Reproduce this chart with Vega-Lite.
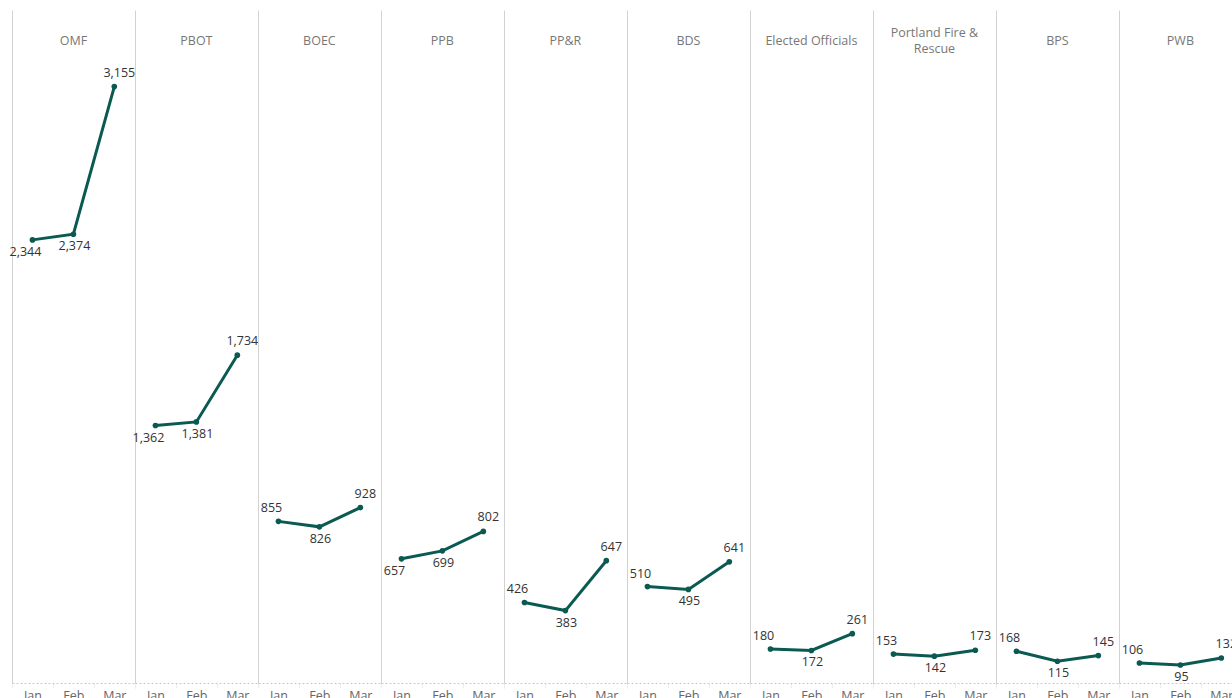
{
  "$schema": "https://vega.github.io/schema/vega-lite/v6.json",
  "background": "white",
  "padding": {"left": 9, "top": 10, "right": 0, "bottom": 0},
  "config": {
    "font": "Open Sans",
    "view": {"stroke": null},
    "facet": {"spacing": 0}
  },
  "data": {
    "values": [
      {"dept": "OMF", "month": "Jan", "value": 2344},
      {"dept": "OMF", "month": "Feb", "value": 2374},
      {"dept": "OMF", "month": "Mar", "value": 3155},
      {"dept": "PBOT", "month": "Jan", "value": 1362},
      {"dept": "PBOT", "month": "Feb", "value": 1381},
      {"dept": "PBOT", "month": "Mar", "value": 1734},
      {"dept": "BOEC", "month": "Jan", "value": 855},
      {"dept": "BOEC", "month": "Feb", "value": 826},
      {"dept": "BOEC", "month": "Mar", "value": 928},
      {"dept": "PPB", "month": "Jan", "value": 657},
      {"dept": "PPB", "month": "Feb", "value": 699},
      {"dept": "PPB", "month": "Mar", "value": 802},
      {"dept": "PP&R", "month": "Jan", "value": 426},
      {"dept": "PP&R", "month": "Feb", "value": 383},
      {"dept": "PP&R", "month": "Mar", "value": 647},
      {"dept": "BDS", "month": "Jan", "value": 510},
      {"dept": "BDS", "month": "Feb", "value": 495},
      {"dept": "BDS", "month": "Mar", "value": 641},
      {"dept": "Elected Officials", "month": "Jan", "value": 180},
      {"dept": "Elected Officials", "month": "Feb", "value": 172},
      {"dept": "Elected Officials", "month": "Mar", "value": 261},
      {"dept": "Portland Fire & Rescue", "month": "Jan", "value": 153},
      {"dept": "Portland Fire & Rescue", "month": "Feb", "value": 142},
      {"dept": "Portland Fire & Rescue", "month": "Mar", "value": 173},
      {"dept": "BPS", "month": "Jan", "value": 168},
      {"dept": "BPS", "month": "Feb", "value": 115},
      {"dept": "BPS", "month": "Mar", "value": 145},
      {"dept": "PWB", "month": "Jan", "value": 106},
      {"dept": "PWB", "month": "Feb", "value": 95},
      {"dept": "PWB", "month": "Mar", "value": 132}
    ]
  },
  "transform": [
    {"calculate": "indexof(['Jan', 'Feb', 'Mar'], datum.month)", "as": "month_index"},
    {
      "window": [{"op": "lead", "field": "value", "as": "next_value"}],
      "groupby": ["dept"],
      "sort": [{"field": "month_index", "order": "ascending"}]
    }
  ],
  "facet": {
    "column": {
      "field": "dept",
      "type": "nominal",
      "sort": ["OMF", "PBOT", "BOEC", "PPB", "PP&R", "BDS", "Elected Officials", "Portland Fire & Rescue", "BPS", "PWB"],
      "header": {
        "title": null,
        "labelFont": "Open Sans",
        "labelFontSize": 12.5,
        "labelColor": "#777777",
        "labelBaseline": "middle",
        "labelPadding": -51,
        "labelLineHeight": 8,
        "labelExpr": "length(datum.value) > 18 ? [slice(datum.value, 0, lastindexof(datum.value, ' ')), '\u200b', slice(datum.value, lastindexof(datum.value, ' ') + 1)] : [datum.value, '\u200b']"
      }
    }
  },
  "spec": {
    "width": 122.78,
    "height": 673,
    "encoding": {
      "x": {
        "field": "month",
        "type": "ordinal",
        "sort": ["Jan", "Feb", "Mar"],
        "scale": {"type": "band", "paddingInner": 0, "paddingOuter": 0},
        "axis": {
          "title": null,
          "labelAngle": 0,
          "labelFontSize": 12.5,
          "labelColor": "#666666",
          "labelPadding": 1,
          "domainColor": "#c8c8c8",
          "domainDash": [2, 2],
          "tickBand": "extent",
          "tickColor": "#ececec",
          "tickSize": 5
        }
      },
      "y": {
        "field": "value",
        "type": "quantitative",
        "scale": {"domain": [0, 3560], "nice": false},
        "axis": {
          "title": null,
          "labels": false,
          "ticks": false,
          "grid": false,
          "domain": true,
          "domainColor": "#d2d2d2"
        }
      }
    },
    "layer": [
      {"mark": {"type": "line", "color": "#0b5a52", "strokeWidth": 3}},
      {"mark": {"type": "point", "filled": true, "color": "#0b5a52", "size": 32, "opacity": 1}},
      {
        "mark": {
          "type": "text",
          "fontSize": 12.5,
          "color": "#333333",
          "baseline": "middle",
          "dx": {"expr": "datum.month == 'Jan' ? -7 : datum.month == 'Mar' ? 5 : 1"},
          "dy": {"expr": "datum.month == 'Mar' ? -14 : datum.month == 'Feb' ? 12 : (datum.value < datum.next_value ? 12 : -13)"}
        },
        "encoding": {"text": {"field": "value", "type": "quantitative", "format": ","}}
      }
    ]
  },
  "resolve": {"axis": {"y": "independent"}},
  "bounds": "flush"
}
